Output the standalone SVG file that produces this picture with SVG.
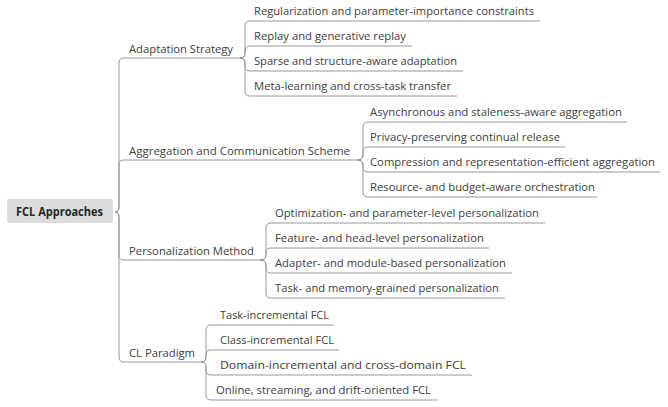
<svg xmlns="http://www.w3.org/2000/svg" width="668" height="407" viewBox="0 0 668 407">
<style>
.t{font-family:"Open Sans","Noto Sans","Liberation Sans",sans-serif;font-size:11.2px;fill:#404040}
.r{font-family:"Open Sans","Noto Sans","Liberation Sans",sans-serif;font-size:12.5px;font-weight:bold;fill:#262626}
.c{fill:none;stroke:#999;stroke-width:1}
</style>
<rect width="668" height="407" fill="#fff"/>
<g id="connectors">
<path class="c" d="M115,212 Q119,212 119,207 L119,63 Q119,58 124,58 L240,58"/>
<path class="c" d="M115,212 Q119,212 119,207 L119,165 Q119,160 124,160 L357,160"/>
<path class="c" d="M115,212 Q119,212 119,217 L119,255 Q119,260 124,260 L260,260"/>
<path class="c" d="M115,212 Q119,212 119,217 L119,357 Q119,362 124,362 L201,362"/>
<path class="c" d="M240,58 Q245,58 245,53 L245,26 Q245,21 250,21 L540,21"/>
<path class="c" d="M240,58 Q245,58 245,53 L245,51 Q245,46 250,46 L412,46"/>
<path class="c" d="M240,58 Q245,58 245,63 L245,66 Q245,71 250,71 L463,71"/>
<path class="c" d="M240,58 Q245,58 245,63 L245,91 Q245,96 250,96 L457,96"/>
<path class="c" d="M357,160 Q363,160 363,155 L363,127 Q363,122 368,122 L627,122"/>
<path class="c" d="M357,160 Q363,160 363,155 L363,152 Q363,147 368,147 L565,147"/>
<path class="c" d="M357,160 Q363,160 363,165 L363,167 Q363,172 368,172 L660,172"/>
<path class="c" d="M357,160 Q363,160 363,165 L363,192 Q363,197 368,197 L597,197"/>
<path class="c" d="M260,260 Q266,260 266,255 L266,228 Q266,223 271,223 L545,223"/>
<path class="c" d="M260,260 Q266,260 266,255 L266,253 Q266,248 271,248 L489,248"/>
<path class="c" d="M260,260 Q266,260 266,265 L266,268 Q266,273 271,273 L512,273"/>
<path class="c" d="M260,260 Q266,260 266,265 L266,293 Q266,298 271,298 L505,298"/>
<path class="c" d="M201,362 Q206,362 206,357 L206,330 Q206,325 211,325 L334,325"/>
<path class="c" d="M201,362 Q206,362 206,357 L206,355 Q206,350 211,350 L339,350"/>
<path class="c" d="M201,362 Q206,362 206,367 L206,370 Q206,375 211,375 L472,375"/>
<path class="c" d="M201,362 Q206,362 206,367 L206,395 Q206,400 211,400 L437,400"/>
</g>
<g id="root">
<rect x="7" y="199" width="106" height="24" rx="3" fill="#dcdcdc"/>
<text class="r" x="16" y="216" textLength="87" lengthAdjust="spacingAndGlyphs">FCL Approaches</text>
</g>
<g id="n-adaptation"><text class="t" x="129" y="53" textLength="104" lengthAdjust="spacingAndGlyphs">Adaptation Strategy</text></g>
<g id="n-aggregation"><text class="t" x="129" y="155" textLength="221" lengthAdjust="spacingAndGlyphs">Aggregation and Communication Scheme</text></g>
<g id="n-personalization"><text class="t" x="129" y="255" textLength="125" lengthAdjust="spacingAndGlyphs">Personalization Method</text></g>
<g id="n-cl"><text class="t" x="129" y="357" textLength="66" lengthAdjust="spacingAndGlyphs">CL Paradigm</text></g>
<g id="n-a1"><text class="t" x="254" y="15" textLength="280" lengthAdjust="spacingAndGlyphs">Regularization and parameter-importance constraints</text></g>
<g id="n-a2"><text class="t" x="254" y="40" textLength="152" lengthAdjust="spacingAndGlyphs">Replay and generative replay</text></g>
<g id="n-a3"><text class="t" x="254" y="65" textLength="203" lengthAdjust="spacingAndGlyphs">Sparse and structure-aware adaptation</text></g>
<g id="n-a4"><text class="t" x="254" y="90" textLength="197" lengthAdjust="spacingAndGlyphs">Meta-learning and cross-task transfer</text></g>
<g id="n-b1"><text class="t" x="370" y="116" textLength="252" lengthAdjust="spacingAndGlyphs">Asynchronous and staleness-aware aggregation</text></g>
<g id="n-b2"><text class="t" x="370" y="141" textLength="190" lengthAdjust="spacingAndGlyphs">Privacy-preserving continual release</text></g>
<g id="n-b3"><text class="t" x="370" y="166" textLength="285" lengthAdjust="spacingAndGlyphs">Compression and representation-efficient aggregation</text></g>
<g id="n-b4"><text class="t" x="370" y="191" textLength="225" lengthAdjust="spacingAndGlyphs">Resource- and budget-aware orchestration</text></g>
<g id="n-c1"><text class="t" x="275" y="217" textLength="264" lengthAdjust="spacingAndGlyphs">Optimization- and parameter-level personalization</text></g>
<g id="n-c2"><text class="t" x="275" y="242" textLength="209" lengthAdjust="spacingAndGlyphs">Feature- and head-level personalization</text></g>
<g id="n-c3"><text class="t" x="275" y="267" textLength="231" lengthAdjust="spacingAndGlyphs">Adapter- and module-based personalization</text></g>
<g id="n-c4"><text class="t" x="275" y="292" textLength="224" lengthAdjust="spacingAndGlyphs">Task- and memory-grained personalization</text></g>
<g id="n-d1"><text class="t" x="220" y="319" textLength="109" lengthAdjust="spacingAndGlyphs">Task-incremental FCL</text></g>
<g id="n-d2"><text class="t" x="220" y="344" textLength="114" lengthAdjust="spacingAndGlyphs">Class-incremental FCL</text></g>
<g id="n-d3"><text class="t" x="220" y="369" textLength="246" lengthAdjust="spacingAndGlyphs">Domain-incremental and cross-domain FCL</text></g>
<g id="n-d4"><text class="t" x="216" y="394" textLength="215" lengthAdjust="spacingAndGlyphs">Online, streaming, and drift-oriented FCL</text></g>
</svg>
